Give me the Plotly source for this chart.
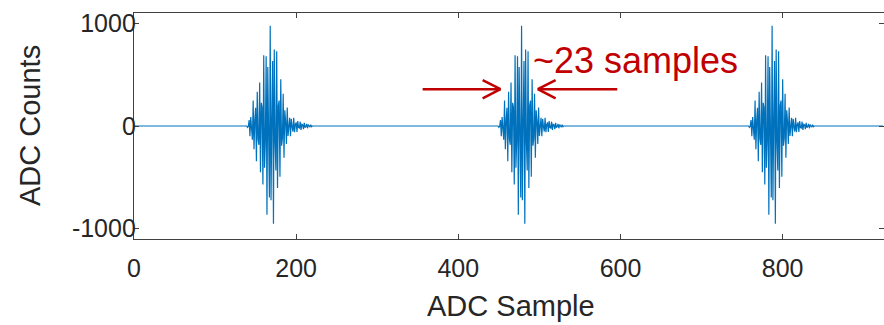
import plotly.graph_objects as go

# ---- data ----
n_samples = 925
burst_centres = [170, 480, 789]        # sample index of each burst's envelope centre
burst_first_offset = -30               # first burst sample relative to the centre
burst_values = [
    -13, -3, 58, -100, 87, -10, -134, 248, -227, 57,
    177, -344, 333, -125, -183, 423, -451, 226, 182, -569,
    688, -407, -150, 680, -863, 574, 59, -696, 975, -722,
    63,
    632, -952, 744, -163, -434, 727, -604, 198, 247, -493,
    456, -192, -124, 315, -310, 153, 47, -174, 179, -96,
    -8, 80, -100, 69, -6, -54, 79, -61, 13, 35,
    -58, 48, -15, -20, 42, -39, 17, 11, -31, 31,
    -16, -5, 20, -22, 13, 1, -11, 12, -7, 0,
]
x_ticks = [0, 200, 400, 600, 800]
y_ticks = [-1000, 0, 1000]
y_tick_labels = ["-1000", "0", "1000"]
x_title = "ADC Sample"
y_title = "ADC Counts"
annotation_text = "~23 samples"
arrow_y = 358
left_arrow = (356, 452)
right_arrow = (596, 498)

# assemble the sampled trace
samples = list(range(n_samples))
counts = [0.0] * n_samples
for c in burst_centres:
    for i, v in enumerate(burst_values):
        k = c + burst_first_offset + i
        if 0 <= k < n_samples:
            counts[k] = v

BLUE = "#0072BD"
RED = "#C00000"
AX = "#404040"
TXT = "#262626"
FONT = "Liberation Sans, Arial, Helvetica, sans-serif"

fig = go.Figure()
fig.add_trace(go.Scatter(x=samples, y=counts, mode="lines",
                         line=dict(color=BLUE, width=1.2), hoverinfo="skip"))

shapes = []
head_dx, head_dy = 22, 88
for (x0, x1) in (left_arrow, right_arrow):
    shapes.append(dict(type="line", xref="x", yref="y", x0=x0, y0=arrow_y, x1=x1, y1=arrow_y,
                       line=dict(color=RED, width=2.5)))
    d = -1 if x1 > x0 else 1
    for s in (1, -1):
        shapes.append(dict(type="line", xref="x", yref="y", x0=x1, y0=arrow_y,
                           x1=x1 + d * head_dx, y1=arrow_y + s * head_dy,
                           line=dict(color=RED, width=2.5)))

annotations = [
    dict(text=annotation_text, xref="x", yref="y", x=490, y=640,
         xanchor="left", yanchor="middle", showarrow=False,
         font=dict(family=FONT, size=36, color=RED)),
    dict(text=x_title, xref="paper", yref="paper", x=(510.5 - 134) / 750, y=-(306 - 239) / 226,
         xanchor="center", yanchor="middle", showarrow=False,
         font=dict(family=FONT, size=29, color=TXT)),
    dict(text=y_title, xref="paper", yref="paper", x=-(134 - 30) / 750, y=0.5,
         xanchor="center", yanchor="middle", showarrow=False, textangle=-90,
         font=dict(family=FONT, size=29, color=TXT)),
]

fig.update_layout(
    width=884, height=325,
    margin=dict(l=134, r=0, t=13, b=86, pad=0),
    paper_bgcolor="white", plot_bgcolor="white",
    showlegend=False,
    font=dict(family=FONT, color=TXT),
    shapes=shapes,
    annotations=annotations,
)
fig.update_xaxes(range=[0, 925], tickvals=x_ticks, ticks="inside", ticklen=5,
                 showline=True, linecolor=AX, linewidth=1.3, mirror="allticks",
                 tickcolor=AX, showgrid=False, zeroline=False, automargin=False,
                 ticklabelstandoff=7,
                 tickfont=dict(size=25, color=TXT))
fig.update_yaxes(range=[-1100, 1100], tickvals=y_ticks, ticktext=y_tick_labels,
                 ticks="inside", ticklen=5,
                 showline=True, linecolor=AX, linewidth=1.3, mirror="allticks",
                 tickcolor=AX, showgrid=False, zeroline=False, automargin=False,
                 ticklabelstandoff=-8,
                 tickfont=dict(size=25, color=TXT))

fig.write_html("out.html", config={"displayModeBar": False},
               post_script="document.body.style.margin='0';document.body.style.padding='0';")
